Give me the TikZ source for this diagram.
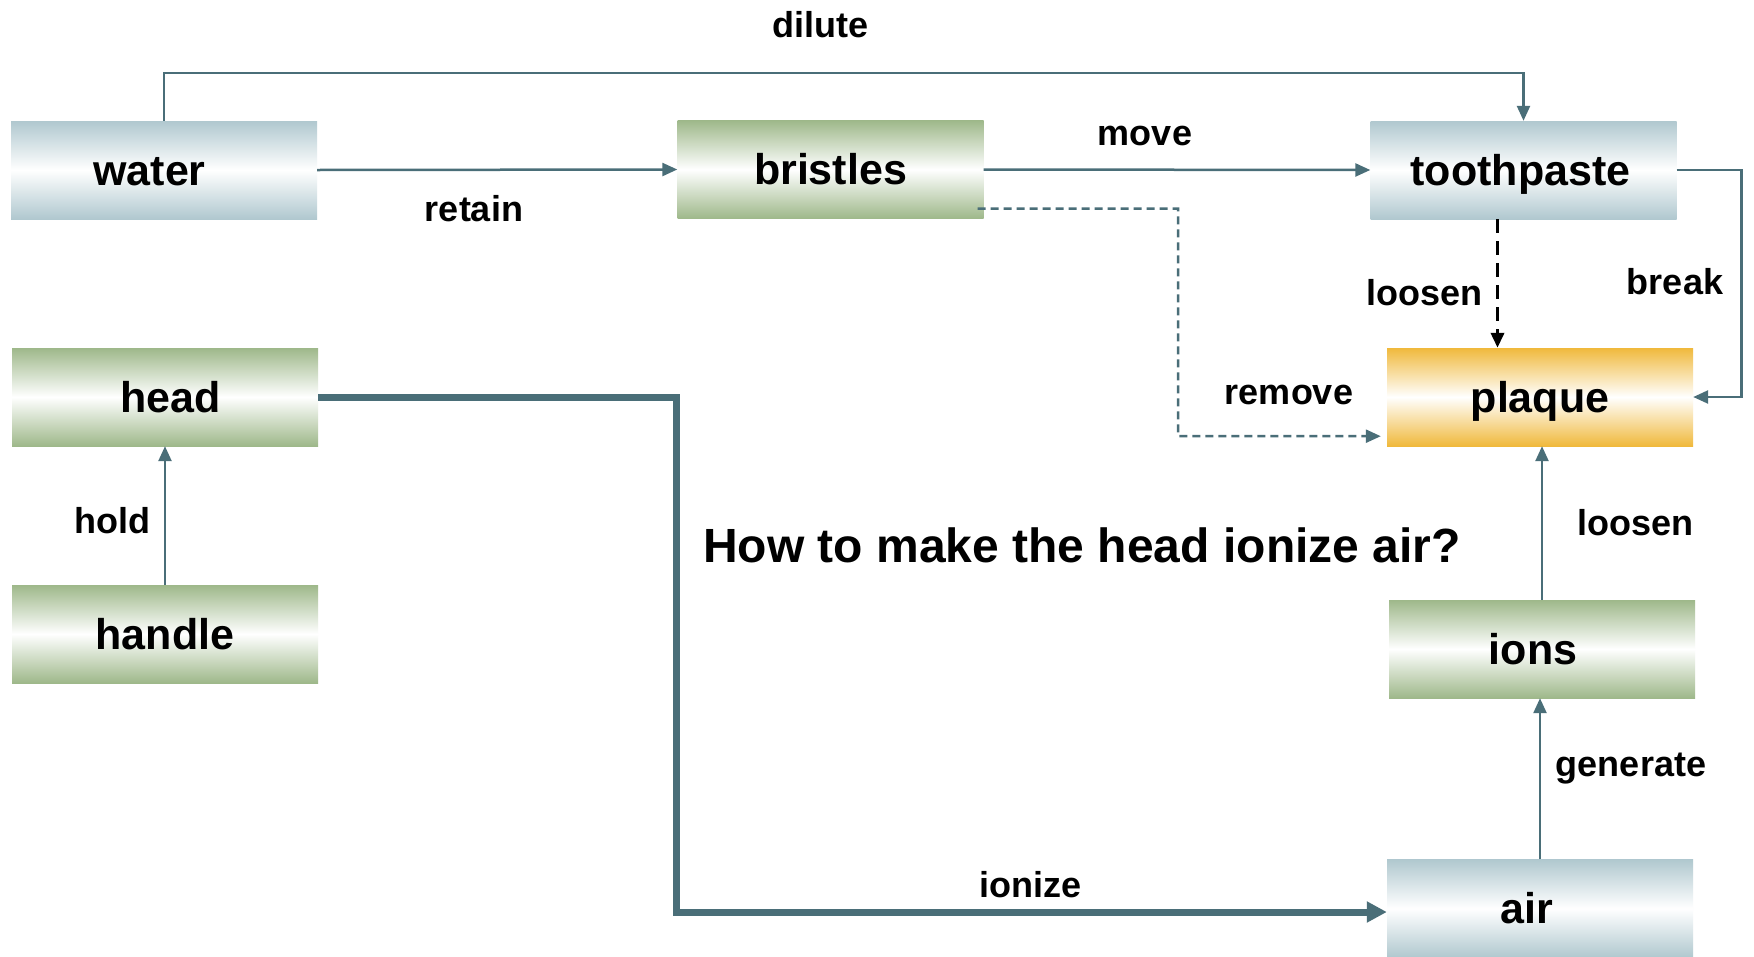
\documentclass[tikz,border=0pt]{standalone}
\usepackage{fontspec}
\setmainfont{Liberation Sans}
\usetikzlibrary{arrows.meta}
\definecolor{lnc}{RGB}{74,110,120}
\definecolor{grn}{RGB}{158,184,138}
\definecolor{blu}{RGB}{176,200,207}
\definecolor{org}{RGB}{240,185,60}
\tikzset{
  box/.style={minimum width=306pt,minimum height=98pt,inner sep=0pt,
    text height=35pt,text depth=5pt,
    font=\fontsize{43}{48}\selectfont\bfseries, middle color=white},
  gbox/.style={box,top color=grn,bottom color=grn,middle color=white},
  bbox/.style={box,top color=blu,bottom color=blu,middle color=white},
  obox/.style={box,top color=org,bottom color=org,middle color=white},
  lbl/.style={font=\fontsize{36}{42}\selectfont\bfseries,inner sep=0pt},
  arr/.style={draw=lnc,line width=2.5pt,-{Triangle[length=15pt,width=13pt]},color=lnc},
}
\begin{document}
\begin{tikzpicture}[x=1pt,y=-1pt]
\useasboundingbox (0,0) rectangle (1754,956);
\fill[white] (0,0) rectangle (1754,956);
\node[bbox] (water) at (164,170) {\hspace*{-29pt}water};
\node[gbox] (bristles) at (830.5,169.5) {bristles};
\node[bbox] (toothpaste) at (1523.5,170) {\hspace*{-6pt}toothpaste};
\node[obox] (plaque) at (1540,397) {plaque};
\node[gbox] (head) at (165,397) {\hspace*{11pt}head};
\node[gbox] (handle) at (165,634) {handle};
\node[gbox] (ions) at (1542,649) {\hspace*{-18pt}ions};
\node[bbox] (air) at (1540,908.5) {\hspace*{-27pt}air};

\draw[arr] (water.north) -- ++(0,-48) -| (toothpaste.north);
\draw[arr] (water.east) -- (bristles.west);
\draw[arr] (bristles.east) -- (toothpaste.west);
\draw[arr,dash pattern=on 8pt off 5pt] ([xshift=-6pt,yshift=10pt]bristles.south east) -| (1178,436) -- ([xshift=-6pt,yshift=10pt]plaque.south west);
\draw[line width=3.5pt,dash pattern=on 14pt off 8pt,-{Triangle[length=15pt,width=13pt]}] ([xshift=-26pt]toothpaste.south) -- ([xshift=-26pt]toothpaste.south |- plaque.north);
\draw[arr] (toothpaste.east) -- ++(65,0) |- (plaque.east);
\draw[draw=lnc,color=lnc,line width=7pt,-{Triangle[length=20pt,width=20pt]}] (head.east) -- ++(358,0) |- ([yshift=-3.5pt]air.west);
\draw[arr] (handle.north) -- (head.south);
\draw[arr] (ions.north) -- (ions.north |- plaque.south);
\draw[arr] (air.north) -- (air.north |- ions.south);

\node[lbl] (ldilute) at (820,25) {dilute};
\node[lbl] (lretain) at (474,209) {retain};
\node[lbl] (lmove) at (1145,136) {move};
\node[lbl] (lremove) at (1289,395) {remove};
\node[lbl] (lloosen) at (1424,293) {loosen};
\node[lbl] (lbreak) at (1675,282) {break};
\node[lbl] (lionize) at (1030,885) {ionize};
\node[lbl] (lhold) at (112,521) {hold};
\node[lbl] (lloosentwo) at (1635,523) {loosen};
\node[lbl] (lgenerate) at (1631,769) {generate};
\node[font=\fontsize{48}{54}\selectfont\bfseries,inner sep=0pt] (title) at (1082,545) {How to make the head ionize air?};
\end{tikzpicture}
\end{document}
